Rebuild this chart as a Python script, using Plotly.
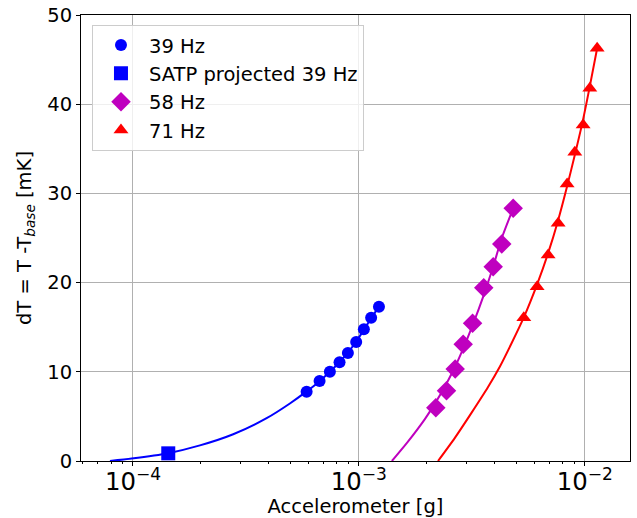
import plotly.graph_objects as go

# 39 Hz measurements
acc_39 = [5.87e-4, 6.70e-4, 7.44e-4, 8.21e-4, 8.94e-4, 9.73e-4, 1.052e-3, 1.133e-3, 1.227e-3]
dt_39 = [7.77, 8.97, 10.01, 11.07, 12.11, 13.34, 14.76, 16.07, 17.30]

# SATP projected point
acc_satp = [1.433e-4]
dt_satp = [0.86]

# 58 Hz measurements
acc_58 = [2.19e-3, 2.443e-3, 2.669e-3, 2.895e-3, 3.185e-3, 3.57e-3, 3.93e-3, 4.29e-3, 4.82e-3]
dt_58 = [5.98, 7.88, 10.31, 13.08, 15.44, 19.43, 21.78, 24.33, 28.33]

# 71 Hz measurements
acc_71 = [5.37e-3, 6.15e-3, 6.88e-3, 7.62e-3, 8.35e-3, 9.03e-3, 9.83e-3, 1.052e-2, 1.134e-2]
dt_71 = [16.07, 19.54, 23.09, 26.65, 31.05, 34.60, 37.67, 41.78, 46.27]

# fitted curves
fit_acc_39 = [7.91e-5, 9.87e-5, 1.433e-4, 1.979e-4, 2.778e-4, 3.905e-4, 4.95e-4, 5.87e-4,
              6.70e-4, 7.44e-4, 8.21e-4, 8.94e-4, 9.73e-4, 1.052e-3, 1.133e-3, 1.227e-3]
fit_dt_39 = [0.0, 0.27, 0.88, 1.75, 3.0, 4.8, 6.45, 7.8,
             8.95, 10.0, 11.1, 12.15, 13.4, 14.7, 16.0, 17.3]

fit_acc_58 = [1.40e-3, 1.652e-3, 1.959e-3, 2.19e-3, 2.443e-3, 2.669e-3, 2.895e-3,
              3.185e-3, 3.57e-3, 3.93e-3, 4.29e-3, 4.82e-3]
fit_dt_58 = [0.0, 2.2, 4.7, 6.6, 8.7, 10.6, 12.6, 15.2, 18.6, 21.8, 25.0, 28.33]

fit_acc_71 = [2.24e-3, 2.66e-3, 3.15e-3, 3.73e-3, 4.21e-3, 4.74e-3, 5.37e-3,
              6.15e-3, 6.88e-3, 7.62e-3, 8.35e-3, 9.03e-3, 9.83e-3, 1.052e-2, 1.134e-2]
fit_dt_71 = [0.0, 2.6, 5.4, 8.3, 10.6, 13.2, 16.1,
             19.8, 23.3, 27.0, 30.8, 34.3, 38.3, 42.0, 46.27]

BLUE = "#0000ff"
MAGENTA = "#bf00bf"
RED = "#ff0000"
FONT = 19.5

fig = go.Figure()

# curves first so markers sit on top
for xs, ys, col in [(fit_acc_39, fit_dt_39, BLUE),
                    (fit_acc_58, fit_dt_58, MAGENTA),
                    (fit_acc_71, fit_dt_71, RED)]:
    fig.add_trace(go.Scatter(x=xs, y=ys, mode="lines",
                             line=dict(color=col, width=2, shape="spline", smoothing=0.6),
                             showlegend=False, hoverinfo="skip"))

fig.add_trace(go.Scatter(x=acc_39, y=dt_39, mode="markers", name="39 Hz",
                         marker=dict(symbol="circle", size=12, color=BLUE)))
fig.add_trace(go.Scatter(x=acc_satp, y=dt_satp, mode="markers", name="SATP projected 39 Hz",
                         marker=dict(symbol="square", size=14, color=BLUE)))
fig.add_trace(go.Scatter(x=acc_58, y=dt_58, mode="markers", name="58 Hz",
                         marker=dict(symbol="diamond", size=15, color=MAGENTA)))
fig.add_trace(go.Scatter(x=acc_71, y=dt_71, mode="markers", name="71 Hz",
                         marker=dict(symbol="triangle-up", size=13, color=RED)))

fig.update_xaxes(
    type="log",
    range=[-4.23, -1.80],
    dtick=1,
    exponentformat="power",
    showgrid=True, gridcolor="#b0b0b0", gridwidth=1,
    ticks="outside", ticklen=4, tickcolor="black",
    ticklabelstandoff=-4,
    minor=dict(ticks="outside", ticklen=2, tickcolor="black", showgrid=False),
    showline=True, linecolor="black", linewidth=1, mirror=True,
    title=dict(text="Accelerometer [g]", standoff=6, font=dict(size=FONT)),
    automargin=False,
    zeroline=False,
)
fig.update_yaxes(
    range=[0, 50],
    dtick=10,
    showgrid=True, gridcolor="#b0b0b0", gridwidth=1,
    ticks="outside", ticklen=4, tickcolor="black",
    showline=True, linecolor="black", linewidth=1, mirror=True,
    title=dict(text="dT = T -T<sub><i>base</i></sub> [mK]", standoff=10, font=dict(size=FONT)),
    automargin=False,
    zeroline=False,
)
fig.update_layout(
    width=637,
    height=518,
    margin=dict(l=81, r=7, t=15, b=57, autoexpand=False),
    plot_bgcolor="white",
    paper_bgcolor="white",
    font=dict(family="DejaVu Sans", size=FONT, color="black"),
    legend=dict(
        x=0.02, y=0.978, xanchor="left", yanchor="top",
        bgcolor="rgba(255,255,255,0.8)",
        bordercolor="#cccccc", borderwidth=1,
        itemwidth=46,
        font=dict(size=FONT),
    ),
)

# drop the browser's default body margin so the figure sits at the page origin
fig.write_html("out.html", config={"displayModeBar": False},
               post_script="document.body.style.margin = '0';")
